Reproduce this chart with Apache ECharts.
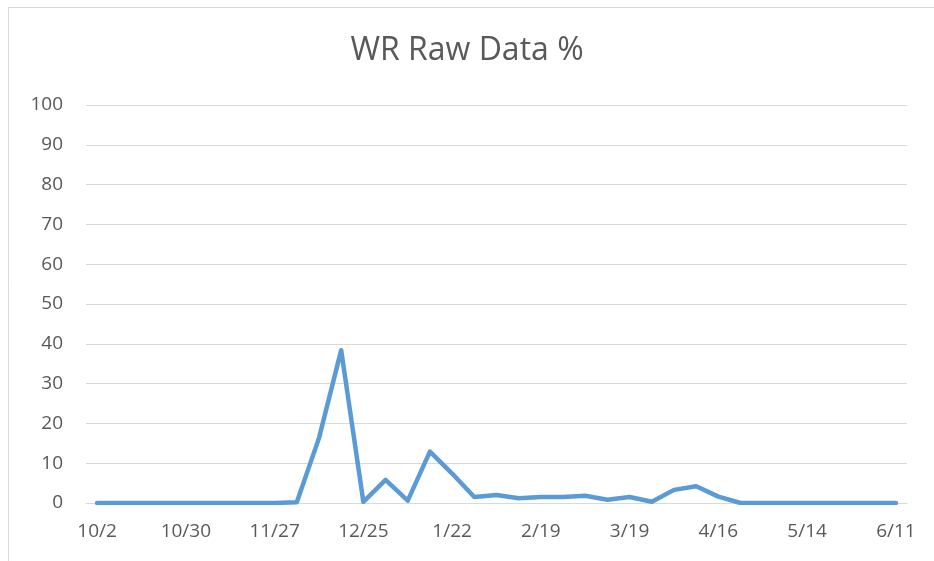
<!DOCTYPE html>
<html>
<head>
<meta charset="utf-8">
<script src="https://cdn.jsdelivr.net/npm/echarts@6/dist/echarts.min.js"></script>
<style>
  html, body { margin: 0; padding: 0; background: #fff; }
  #chart { width: 934px; height: 561px; }
</style>
</head>
<body>
<div id="chart"></div>
<script>
// weekly dates, 10/2 -> 6/11
const weeks = [
  "10/2", "10/9", "10/16", "10/23", "10/30", "11/6", "11/13", "11/20",
  "11/27", "12/4", "12/11", "12/18", "12/25", "1/1", "1/8", "1/15",
  "1/22", "1/29", "2/5", "2/12", "2/19", "2/26", "3/5", "3/12",
  "3/19", "3/26", "4/2", "4/9", "4/16", "4/23", "4/30", "5/7",
  "5/14", "5/21", "5/28", "6/4", "6/11"
];
const wrRaw = [
  0, 0, 0, 0, 0, 0, 0, 0,
  0, 0.2, 16.3, 38.4, 0.3, 5.8, 0.6, 12.9,
  7.4, 1.5, 2.0, 1.2, 1.5, 1.5, 1.8, 0.8,
  1.5, 0.3, 3.3, 4.2, 1.6, 0, 0, 0,
  0, 0, 0, 0, 0
];

const chart = echarts.init(document.getElementById("chart"));

const option = {
  animation: false,
  title: {
    text: "WR Raw Data %",
    left: "center",
    top: 30,
    textStyle: { fontFamily: "Open Sans", fontSize: 32, fontWeight: "normal", color: "#595959" }
  },
  graphic: [{
    type: "rect",
    shape: { x: 8.5, y: 7.5, width: 940, height: 560 },
    style: { fill: "none", stroke: "#d9d9d9", lineWidth: 1 },
    silent: true
  }],
  grid: { left: 86, right: 27, top: 105, bottom: 58 },
  xAxis: {
    type: "category",
    data: weeks,
    boundaryGap: true,
    axisLine: { lineStyle: { color: "#d9d9d9", width: 1 } },
    axisTick: { interval: 1, length: 7, lineStyle: { color: "#d9d9d9" } },
    axisLabel: { interval: 3, color: "#595959", fontFamily: "Open Sans", fontSize: 19, margin: 19 }
  },
  yAxis: {
    type: "value",
    min: 0,
    max: 100,
    interval: 10,
    axisLine: { show: false },
    axisTick: { show: false },
    axisLabel: { color: "#595959", fontFamily: "Open Sans", fontSize: 19, margin: 23 },
    splitLine: { lineStyle: { color: "#d9d9d9", width: 1 } }
  },
  series: [{
    name: "WR Raw Data %",
    type: "line",
    data: wrRaw,
    showSymbol: false,
    lineStyle: { color: "#5b9bd5", width: 4.5, cap: "round", join: "round" }
  }]
};

chart.setOption(option);
</script>
</body>
</html>
